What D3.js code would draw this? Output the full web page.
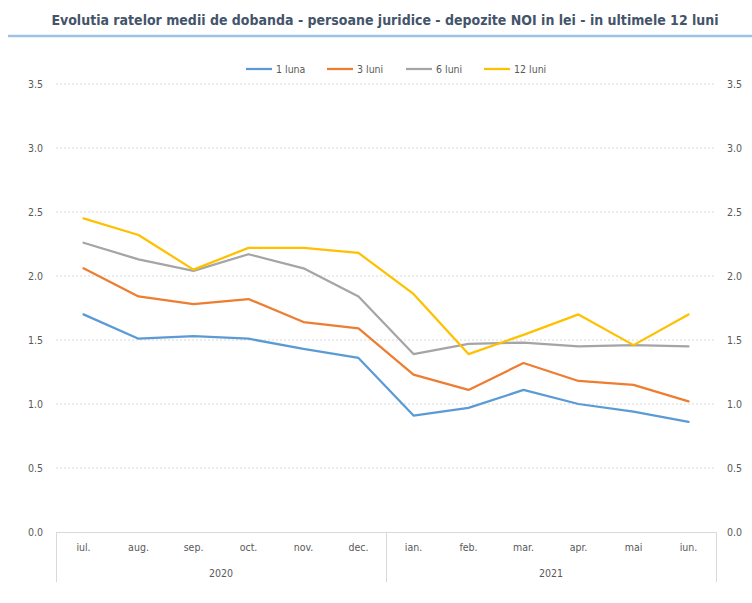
<!DOCTYPE html>
<html><head><meta charset="utf-8">
<script src="https://cdn.jsdelivr.net/npm/d3@7"></script>
<style>body{margin:0;background:#fff}svg{display:block}text{font-family:"Liberation Sans Narrow","DejaVu Sans Condensed","Liberation Sans",sans-serif}</style>
</head><body>
<script>
const months = ["iul.","aug.","sep.","oct.","nov.","dec.","ian.","feb.","mar.","apr.","mai","iun."];
const years = [{label:"2020", from:0, to:6},{label:"2021", from:6, to:12}];
const seriesNames = ["1 luna","3 luni","6 luni","12 luni"];
const seriesColors = ["#5B9BD5","#ED7D31","#A5A5A5","#FFC000"];
const luna1  = [1.70,1.51,1.53,1.51,1.43,1.36,0.91,0.97,1.11,1.00,0.94,0.86];
const luni3  = [2.06,1.84,1.78,1.82,1.64,1.59,1.23,1.11,1.32,1.18,1.15,1.02];
const luni6  = [2.26,2.13,2.04,2.17,2.06,1.84,1.39,1.47,1.48,1.45,1.46,1.45];
const luni12 = [2.45,2.32,2.05,2.22,2.22,2.18,1.86,1.39,1.54,1.70,1.46,1.70];
const yTicks = [0,0.5,1,1.5,2,2.5,3,3.5];
const title = "Evolutia ratelor medii de dobanda - persoane juridice - depozite NOI in lei - in ultimele 12 luni";

const W=752,H=603;
const FF="'Liberation Sans Narrow','DejaVu Sans Condensed',sans-serif";
const svg=d3.select("body").append("svg").attr("width",W).attr("height",H);
const x=d3.scaleBand().domain(d3.range(12)).range([56,716]);
const y=d3.scaleLinear().domain([0,3.5]).range([532,84]);

// title
svg.append("text").attr("x",385).attr("y",25).attr("text-anchor","middle")
  .attr("font-size",14).attr("font-weight","bold").attr("fill","#44546A")
  .style("font-family",FF).text(title);
svg.append("line").attr("x1",8).attr("x2",752).attr("y1",36).attr("y2",36)
  .attr("stroke","#9DC3E6").attr("stroke-width",2.5);

// gridlines
const grid=svg.append("g");
grid.selectAll("line").data(yTicks.filter(d=>d>0)).join("line")
  .attr("x1",56).attr("x2",716).attr("y1",d=>y(d)).attr("y2",d=>y(d))
  .attr("stroke","#D9D9D9").attr("stroke-width",1).attr("stroke-dasharray","2,2");

// y axes
const fmt=d3.format(".1f");
const yl=d3.axisLeft(y).tickValues(yTicks).tickFormat(fmt).tickSize(0).tickPadding(13);
const yr=d3.axisRight(y).tickValues(yTicks).tickFormat(fmt).tickSize(0).tickPadding(11);
const gl=svg.append("g").attr("transform","translate(56,0)").call(yl);
const gr=svg.append("g").attr("transform","translate(716,0)").call(yr);
[gl,gr].forEach(g=>{g.select(".domain").remove();g.selectAll("text").attr("fill","#595959").attr("font-size",10.5).style("font-family",FF);});

// category box
const box=svg.append("g").attr("stroke","#D9D9D9").attr("stroke-width",1);
box.append("line").attr("x1",56).attr("x2",716).attr("y1",532.5).attr("y2",532.5);
[0,6,12].forEach(i=>{const xx=(i<12?x(i):x(11)+x.bandwidth());
  box.append("line").attr("x1",xx+0.5).attr("x2",xx+0.5).attr("y1",532).attr("y2",582);});

const xa=d3.axisBottom(x).tickFormat(i=>months[i]).tickSize(0).tickPadding(10);
const gx=svg.append("g").attr("transform","translate(0,534)").call(xa);
gx.select(".domain").remove();
gx.selectAll("text").attr("fill","#595959").attr("font-size",10.5).style("font-family",FF);

svg.append("g").selectAll("text").data(years).join("text")
  .attr("x",d=>(x(d.from)+(d.to<12?x(d.to):x(11)+x.bandwidth()))/2).attr("y",577)
  .attr("text-anchor","middle").attr("fill","#595959").attr("font-size",10.5)
  .style("font-family",FF).text(d=>d.label);

// lines
const data=[luna1,luni3,luni6,luni12];
const line=d3.line().x((d,i)=>x(i)+x.bandwidth()/2).y(d=>y(d));
svg.append("g").selectAll("path").data(data).join("path")
  .attr("d",line).attr("fill","none").attr("stroke",(d,i)=>seriesColors[i])
  .attr("stroke-width",2.25).attr("stroke-linejoin","round").attr("stroke-linecap","round");

// legend
const legX=[246,327,406,484];
const lg=svg.append("g").selectAll("g").data(seriesNames).join("g")
  .attr("transform",(d,i)=>`translate(${legX[i]},69)`);
lg.append("line").attr("x1",0).attr("x2",26).attr("stroke",(d,i)=>seriesColors[i]).attr("stroke-width",2.25);
lg.append("text").attr("x",30).attr("y",3.5).attr("font-size",10.5).attr("fill","#595959")
  .style("font-family",FF).text(d=>d);
</script>
</body></html>
